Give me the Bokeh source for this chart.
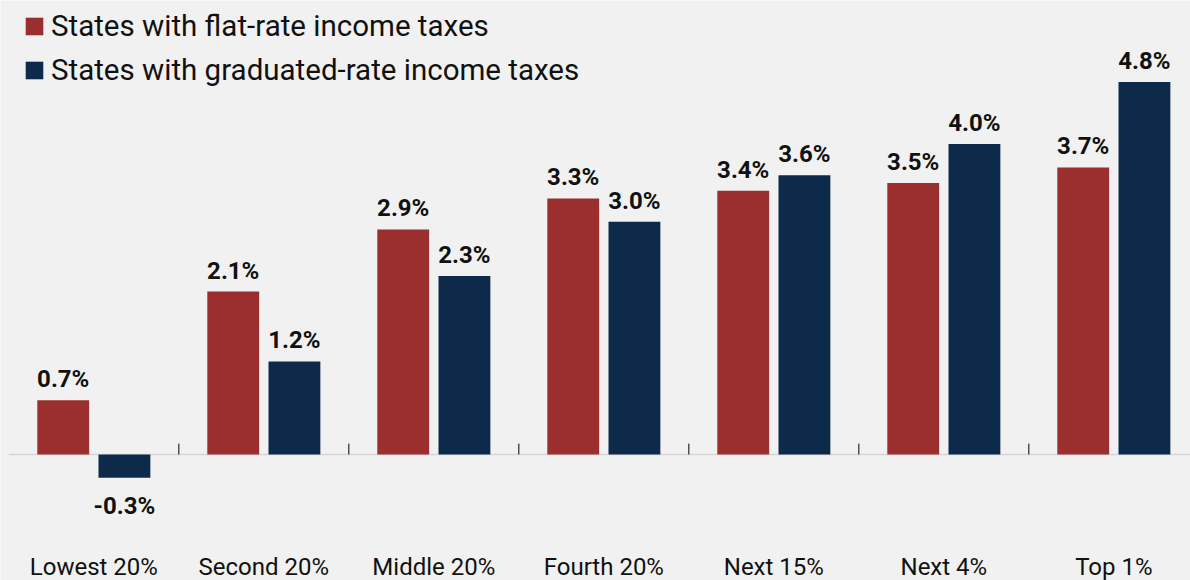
from bokeh.plotting import figure
from bokeh.models import ColumnDataSource, Legend, LegendItem
from bokeh.core.properties import value
from bokeh.embed import file_html
from bokeh.resources import INLINE

categories = ["Lowest 20%", "Second 20%", "Middle 20%", "Fourth 20%", "Next 15%", "Next 4%", "Top 1%"]
flat_rate = [0.7, 2.1, 2.9, 3.3, 3.4, 3.5, 3.7]
graduated_rate = [-0.3, 1.2, 2.3, 3.0, 3.6, 4.0, 4.8]
series_names = ["States with flat-rate income taxes", "States with graduated-rate income taxes"]

RED = "#9B2F2F"
NAVY = "#0E2A4B"
BG = "#F0F1F0"
FONT = "Roboto"

n = len(categories)
centers = [i + 0.5 for i in range(n)]
off = 0.18
bw = 0.305

def fmt(v):
    return f"{v:.1f}%"

src_flat = ColumnDataSource(dict(
    x=[c - off for c in centers], top=flat_rate,
    label=[fmt(v) for v in flat_rate],
))
src_grad = ColumnDataSource(dict(
    x=[c + off for c in centers], top=graduated_rate,
    label=[fmt(v) for v in graduated_rate],
))

p = figure(width=1190, height=580, output_backend="svg", toolbar_location=None,
           x_range=(-0.049, 6.951), y_range=(-1.624, 5.851),
           min_border=0, min_border_left=0, min_border_right=0,
           min_border_top=0, min_border_bottom=0)
p.background_fill_color = BG
p.border_fill_color = BG
p.outline_line_color = None
p.xaxis.visible = False
p.yaxis.visible = False
p.xgrid.visible = False
p.ygrid.visible = False

# baseline
p.segment(x0=[0], y0=[0], x1=[n], y1=[0], line_color="#D6D6D6", line_width=1.5)
# category boundary ticks
p.segment(x0=list(range(1, n)), y0=[0] * (n - 1), x1=list(range(1, n)), y1=[0.14] * (n - 1),
          line_color="#000000", line_width=1)

r_flat = p.vbar(x="x", top="top", bottom=0, width=bw, source=src_flat,
                fill_color=RED, line_color=None)
r_grad = p.vbar(x="x", top="top", bottom=0, width=bw, source=src_grad,
                fill_color=NAVY, line_color=None)

# value labels
pos_g = ColumnDataSource(dict(
    x=[x for x, v in zip(src_grad.data["x"], graduated_rate) if v >= 0],
    y=[v for v in graduated_rate if v >= 0],
    label=[fmt(v) for v in graduated_rate if v >= 0],
))
neg_g = ColumnDataSource(dict(
    x=[x for x, v in zip(src_grad.data["x"], graduated_rate) if v < 0],
    y=[v for v in graduated_rate if v < 0],
    label=[fmt(v) for v in graduated_rate if v < 0],
))
label_kw = dict(text_align="center", text_font=value(FONT), text_font_style="bold",
                text_font_size="24px", text_color="#111111")
p.text(x="x", y="top", text="label", source=src_flat, text_baseline="bottom",
       y_offset=-7, **label_kw)
p.text(x="x", y="y", text="label", source=pos_g, text_baseline="bottom",
       y_offset=-7, **label_kw)
p.text(x="x", y="y", text="label", source=neg_g, text_baseline="top",
       y_offset=14, **label_kw)

# category labels
cat_src = ColumnDataSource(dict(x=centers, y=[0] * n, label=categories))
p.text(x="x", y="y", text="label", source=cat_src, text_align="center",
       text_baseline="middle", y_offset=113, text_font=value(FONT),
       text_font_size="24px", text_color="#111111")

legend = Legend(items=[LegendItem(label=series_names[0], renderers=[r_flat]),
                       LegendItem(label=series_names[1], renderers=[r_grad])],
                location=(23, 493), orientation="vertical")
legend.margin = 0
legend.padding = 0
legend.spacing = 10
legend.glyph_width = 22
legend.glyph_height = 22
legend.label_standoff = 6
legend.label_text_font = FONT
legend.label_text_font_size = "29.5px"
legend.label_text_color = "#111111"
legend.background_fill_alpha = 0
legend.border_line_color = None
legend.inactive_fill_alpha = 0
p.add_layout(legend, "center")

open("out.html", "w").write(file_html(p, INLINE))
